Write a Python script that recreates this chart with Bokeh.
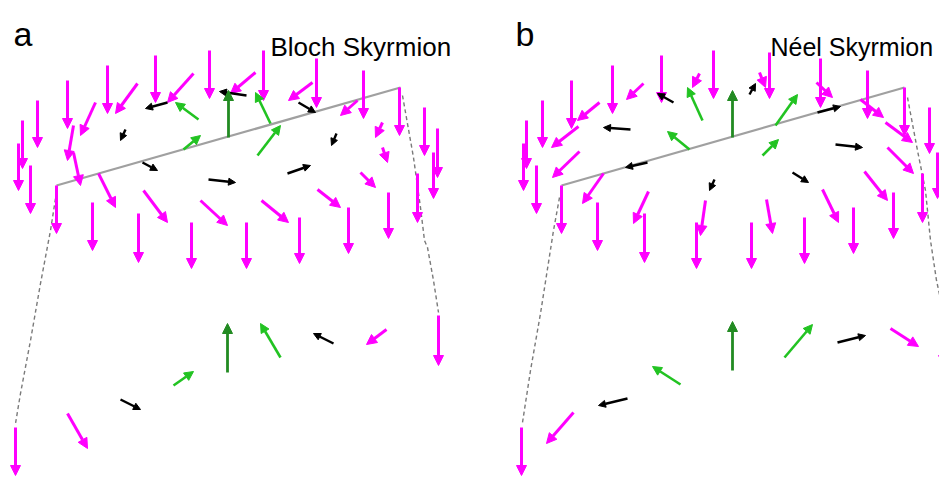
from bokeh.plotting import figure
from bokeh.models import Arrow, NormalHead, ColumnDataSource, Range1d
from bokeh.core.properties import value
from bokeh.embed import file_html
from bokeh.resources import INLINE

W, H = 939, 477

# ---------------- data: arrows as (x_tail, y_tail, x_tip, y_tip), picture units (y grows downward)
# Panel a : Bloch skyrmion
bloch_magenta = [
    (155, 55, 155, 102), (209, 50, 209, 98), (107, 65, 107, 113), (67, 80, 67, 128),
    (37, 100, 37, 147), (22, 120, 22, 168), (18, 143, 18, 190), (30, 165, 30, 213),
    (137, 83, 115, 113), (193, 73, 167, 102), (95, 102, 80, 135), (73, 125, 67, 160),
    (73, 152, 80, 185), (98, 173, 115, 207), (143, 190, 167, 222), (200, 200, 227, 225),
    (56, 185, 56, 233), (92, 202, 92, 250), (138, 213, 138, 262), (191, 222, 191, 268),
    (255, 72, 230, 93), (263, 50, 263, 100), (312, 82, 288, 100), (316, 58, 316, 107),
    (363, 70, 363, 118), (357, 100, 340, 115), (399, 87, 399, 135), (382, 122, 375, 137),
    (382, 147, 387, 162), (424, 107, 424, 155), (437, 128, 437, 177), (433, 152, 433, 198),
    (417, 173, 417, 222), (388, 192, 388, 238), (360, 172, 375, 187), (317, 189, 340, 207),
    (261, 200, 288, 222), (246, 222, 246, 268), (299, 217, 299, 263), (348, 207, 348, 253),
    # cross-section row
    (15, 427, 15, 475), (67, 413, 87, 448), (386, 329, 366, 344), (438, 315, 438, 365),
]
bloch_black = [
    (167, 102, 145, 108), (125, 129, 120, 140), (142, 162, 157, 170), (208, 179, 235, 182),
    (246, 95, 219, 91), (298, 102, 315, 112), (336, 133, 331, 145), (287, 173, 310, 165),
    (120, 399, 140, 409), (333, 343, 313, 333),
]
bloch_lightgreen = [
    (198, 119, 175, 102), (183, 149, 200, 135), (270, 123, 255, 92), (257, 155, 280, 125),
    (173, 385, 193, 371), (280, 357, 260, 323),
]
bloch_darkgreen = [(228, 137, 228, 90), (227, 372, 227, 323)]

# Panel b : Néel skyrmion
neel_magenta = [
    (661, 55, 661, 102), (713, 50, 713, 98), (612, 65, 612, 113), (571, 80, 571, 128),
    (542, 100, 542, 147), (526, 120, 526, 168), (523, 143, 523, 190), (536, 165, 536, 213),
    (561, 185, 561, 233), (597, 202, 597, 250), (644, 213, 644, 262), (696, 222, 696, 268),
    (643, 83, 626, 99), (599, 102, 577, 120), (578, 126, 551, 147), (579, 151, 552, 177),
    (603, 173, 582, 203), (648, 191, 633, 223), (699, 73, 692, 87), (705, 200, 700, 235),
    (759, 72, 765, 87), (769, 52, 769, 98), (820, 58, 820, 107), (816, 82, 832, 97),
    (867, 70, 867, 118), (860, 99, 883, 117), (904, 87, 904, 135), (885, 122, 912, 142),
    (929, 107, 929, 153), (937, 152, 937, 198), (887, 147, 913, 173), (922, 173, 922, 222),
    (864, 171, 887, 200), (822, 189, 838, 222), (766, 199, 772, 233), (893, 192, 893, 238),
    (751, 222, 751, 268), (804, 217, 804, 263), (853, 207, 853, 253),
    # cross-section row
    (521, 427, 521, 475), (573, 412, 546, 443), (890, 328, 918, 346), (943, 315, 943, 365),
]
neel_black = [
    (630, 129, 603, 127), (647, 162, 625, 167), (673, 102, 657, 93), (714, 179, 709, 190),
    (749, 94, 755, 83), (817, 112, 840, 106), (835, 144, 862, 147), (792, 172, 808, 182),
    (627, 398, 598, 405), (837, 342, 865, 335),
]
neel_lightgreen = [
    (702, 120, 687, 87), (689, 149, 667, 131), (775, 125, 797, 94), (762, 155, 778, 139),
    (680, 384, 652, 366), (784, 357, 812, 324),
]
neel_darkgreen = [(732, 137, 732, 90), (732, 370, 732, 321)]

# cutting plane (solid) and its projection guides (dashed)
plane_a_x = [56, 400]
plane_a_y = [185, 87]
plane_b_x = [561, 904]
plane_b_y = [185, 87]
guide_a_left_x = [55, 50, 40, 30, 20, 15]
guide_a_left_y = [198, 230, 283, 340, 393, 423]
guide_a_right_x = [402, 413, 420, 424, 427, 433, 438]
guide_a_right_y = [95, 157, 207, 240, 247, 280, 312]
guide_b_left_x = [559, 553, 540, 530, 522]
guide_b_left_y = [197, 230, 313, 370, 422]
guide_b_right_x = [907, 917, 925, 930, 936, 943]
guide_b_right_y = [97, 150, 190, 240, 280, 312]

labels = ["a", "b"]
titles = ["Bloch Skyrmion", "Néel Skyrmion"]

# ---------------- figure
p = figure(width=W, height=H, output_backend="svg", toolbar_location=None,
           x_range=Range1d(0, W), y_range=Range1d(H, 0),
           min_border=0, outline_line_color=None)
p.axis.visible = False
p.grid.visible = False
p.background_fill_color = "white"
p.border_fill_color = "white"

for gx, gy in [(guide_a_left_x, guide_a_left_y), (guide_a_right_x, guide_a_right_y),
               (guide_b_left_x, guide_b_left_y), (guide_b_right_x, guide_b_right_y)]:
    p.line(gx, gy, line_color="#7a7a7a", line_width=1.4, line_dash="4 3")
for px, py in [(plane_a_x, plane_a_y), (plane_b_x, plane_b_y)]:
    p.line(px, py, line_color="#a0a0a0", line_width=2.2)


def add_arrows(arr, color, width, head):
    src = ColumnDataSource(dict(x0=[a[0] for a in arr], y0=[a[1] for a in arr],
                                x1=[a[2] for a in arr], y1=[a[3] for a in arr]))
    p.add_layout(Arrow(x_start="x0", y_start="y0", x_end="x1", y_end="y1", source=src,
                       line_color=color, line_width=width,
                       end=NormalHead(size=head, fill_color=color, line_color=color, line_width=1)))


MAG, BLK, LG, DG = "#ff00ff", "#000000", "#22c322", "#228b22"
for m, b, lg, dg in [(bloch_magenta, bloch_black, bloch_lightgreen, bloch_darkgreen),
                     (neel_magenta, neel_black, neel_lightgreen, neel_darkgreen)]:
    add_arrows(m, MAG, 3, 10)
    add_arrows(b, BLK, 2.4, 7)
    add_arrows(lg, LG, 2.6, 9)
    add_arrows(dg, DG, 2.8, 10)

p.text(x=[13, 515], y=[33, 33], text=labels, text_font=value("Liberation Sans"),
       text_font_size="34px", text_baseline="alphabetic", text_color="black")
p.text(x=[270], y=[46], text=titles[:1], text_font=value("Liberation Sans"),
       text_font_size="26px", text_baseline="alphabetic", text_color="black")
p.text(x=[770], y=[46], text=titles[1:], text_font=value("Liberation Sans"),
       text_font_size="25px", text_baseline="alphabetic", text_color="black")

open("out.html", "w").write(file_html(p, INLINE))
